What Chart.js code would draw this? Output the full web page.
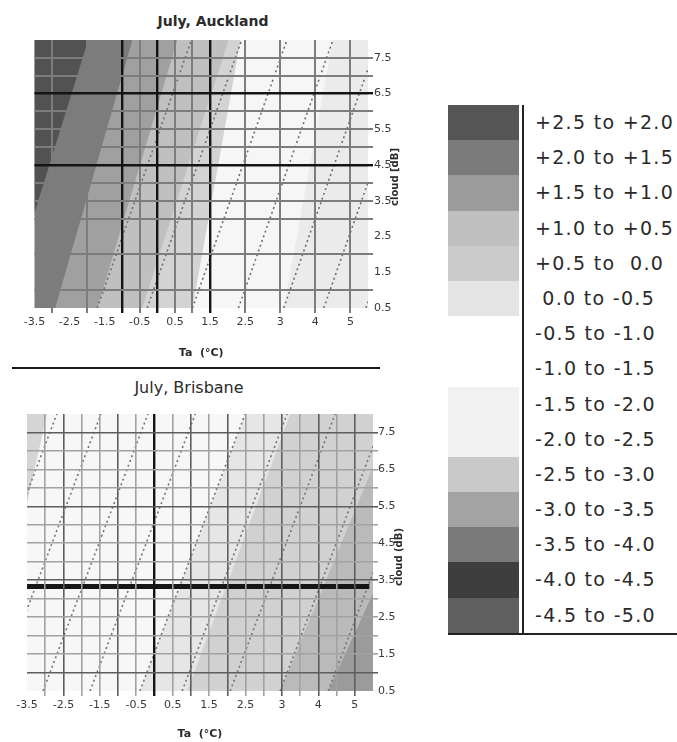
<!DOCTYPE html>
<html lang="en">
<head>
<meta charset="UTF-8">
<meta name="viewport" content="width=device-width, initial-scale=1.0">
<title>July, Auckland / July, Brisbane</title>
<style>
    body { margin: 0; background: #fff; }
    .page {
        position: relative;
        width: 677px;
        height: 742px;
        overflow: hidden;
        background: #fff;
        font-family: 'DejaVu Sans', sans-serif;
        color: #2b2b2b;
    }
    canvas { position: absolute; }
    #aucklandChart { left: 0; top: 0; }
    #brisbaneChart { left: 0; top: 372px; }
    .panel-title { position: absolute; width: 220px; text-align: center; white-space: nowrap; }
    #aucklandTitle { left: 103px; top: 12px; font-size: 14px; font-weight: bold; line-height: 19px; }
    #brisbaneTitle { left: 79px; top: 378px; font-size: 16px; line-height: 20px; }
    .cloud-title {
        position: absolute;
        width: 100px; height: 12px; line-height: 12px;
        font-size: 10px; font-weight: bold;
        text-align: center; white-space: nowrap;
        transform: rotate(-90deg);
    }
    #aucklandCloud { left: 345px; top: 171px; }
    #brisbaneCloud { left: 349px; top: 551px; }
    .divider { position: absolute; left: 12px; top: 367px; width: 368px; height: 2px; background: #1a1a1a; }
    #legend {
        position: absolute;
        left: 448px; top: 105px; width: 229px;
        border-bottom: 2px solid #222;
    }
    .legend-row { display: flex; height: 35.2px; }
    .swatch { width: 71px; height: 100%; }
    .range {
        margin-left: 3px;
        border-left: 2px solid #222;
        padding-left: 11px;
        line-height: 35.2px;
        font-size: 19px;
        letter-spacing: 1.3px;
        white-space: pre;
        color: #2a2a2a;
    }
</style>
<script src="https://cdn.jsdelivr.net/npm/chart.js"></script>
</head>
<body>
<div class="page">
    <div class="panel-title" id="aucklandTitle">July, Auckland</div>
    <canvas id="aucklandChart" width="396" height="362"></canvas>
    <div class="cloud-title" id="aucklandCloud">cloud [dB]</div>

    <div class="divider"></div>

    <div class="panel-title" id="brisbaneTitle">July, Brisbane</div>
    <canvas id="brisbaneChart" width="404" height="370"></canvas>
    <div class="cloud-title" id="brisbaneCloud">cloud (dB)</div>

    <div id="legend"></div>
</div>

<script>
    // ---- axis labels ----
    const taTickLabels = ['-3.5', '-2.5', '-1.5', '-0.5', '0.5', '1.5', '2.5', '3', '4', '5'];
    const cloudTickLabels = [0.5, 1.5, 2.5, 3.5, 4.5, 5.5, 6.5, 7.5];

    // ---- legend ranges ----
    const legendRanges = [
        '+2.5 to +2.0', '+2.0 to +1.5', '+1.5 to +1.0', '+1.0 to +0.5', '+0.5 to  0.0',
        ' 0.0 to -0.5', '-0.5 to -1.0', '-1.0 to -1.5', '-1.5 to -2.0', '-2.0 to -2.5',
        '-2.5 to -3.0', '-3.0 to -3.5', '-3.5 to -4.0', '-4.0 to -4.5', '-4.5 to -5.0'
    ];

    // ---- Auckland ----
    // contour edges: Ta column where each edge meets cloud 0.5 (low) and cloud 8 (high)
    const aucklandEdgeLow  = [-0.84, 0.59, 1.79, 3.07, 4.5, 7.1];
    const aucklandEdgeHigh = [1.53, 2.79, 4.07, 5.53, 5.87, 8.5];
    const aucklandDotLow  = [1.79, 3.21, 4.5, 5.81, 7.1, 8.24, 9.44];
    const aucklandDotHigh = [4.47, 5.9, 7.19, 8.5, 9.79, 10.93, 12.13];
    const aucklandGridTa = [0.5, 1.5, 2.5, 3, 3.5, 4, 4.5, 5, 6, 7, 8, 9];
    const aucklandBoldTa = [2.5, 3.5, 5];
    const aucklandGridCloud = [1, 2, 3, 3.5, 4, 4.5, 5, 5.5, 6, 6.5, 7, 7.5];
    const aucklandBoldCloud = [4.5, 6.5];

    // ---- Brisbane ----
    const brisbaneCornerLow = [-1.15];
    const brisbaneCornerHigh = [0.55];
    const brisbaneEdgeLow  = [3.1, 4.4, 6.95, 8.27];
    const brisbaneEdgeHigh = [6.0, 7.23, 10.1, 11.76];
    const brisbaneDotLow  = [-2.06, -0.85, 0.44, 1.73, 3.1, 4.26, 5.58, 6.95, 8.27, 9.56];
    const brisbaneDotHigh = [0.82, 2.03, 3.32, 4.62, 5.99, 7.14, 8.46, 9.84, 11.15, 12.45];
    const brisbaneGridTa = [0.5, 1, 1.5, 2, 2.5, 3, 3.5, 4, 4.5, 5, 5.5, 6, 6.5, 7, 7.5, 8, 8.5, 9];
    const brisbaneDarkTa = [1, 2.5, 4.5, 5.5, 7, 8, 9];
    const brisbaneBoldTa = [3.5];
    const brisbaneGridCloud = [1, 1.5, 2, 2.5, 3, 3.5, 4, 4.5, 5, 5.5, 6, 6.5, 7, 7.5];
    const brisbaneDarkCloud = [1, 3.5, 5.5, 7.5];
    const brisbaneCurrentCloud = [3.33];

    // ---- shades (styles) ----
    const legendShades = ['#555555', '#7b7b7b', '#9b9b9b', '#c0c0c0', '#cbcbcb', '#e4e4e4', '#ffffff', '#ffffff',
        '#f1f1f1', '#f1f1f1', '#c9c9c9', '#a3a3a3', '#7a7a7a', '#3e3e3e', '#5f5f5f'];
    const aucklandShades = ['#525252', '#7c7c7c', '#a0a0a0', '#c0c0c0', '#d3d3d3', '#f6f6f6'];
    const brisbaneShades = ['#e6e6e6', '#d1d1d1', '#bababa', '#9b9b9b'];

    const Y_LOW = 0.5, Y_HIGH = 8;
    const CLEAR = 'rgba(0,0,0,0)';

    // plot area background
    const plotBackground = {
        id: 'plotBackground',
        beforeDatasetsDraw(chart, args, opts) {
            const { ctx, chartArea: a } = chart;
            ctx.save();
            ctx.fillStyle = opts.color;
            ctx.fillRect(a.left, a.top, a.width, a.height);
            ctx.restore();
        }
    };

    function edgePoints(low, high) {
        return [{ x: -10, y: Y_LOW }, { x: low, y: Y_LOW }, { x: high, y: Y_HIGH }, { x: 30, y: Y_HIGH }];
    }

    // side 'left' paints the area left of the edge, 'right' the area right of it
    function bandSet(low, high, color, side, order) {
        return {
            data: edgePoints(low, high),
            fill: side === 'left' ? 'end' : 'start',
            backgroundColor: color,
            borderColor: CLEAR,
            borderWidth: 0,
            pointRadius: 0,
            order: order
        };
    }

    function dotSet(low, high, color) {
        return {
            data: [{ x: low, y: Y_LOW }, { x: high, y: Y_HIGH }],
            borderColor: color,
            borderWidth: 1.6,
            borderDash: [2, 3],
            fill: false,
            pointRadius: 0,
            order: 3
        };
    }

    function union(a, b) {
        return [...new Set([...a, ...b])].sort((p, q) => p - q);
    }

    function gridStyle(gridVals, darkVals, boldVals, colors) {
        return {
            z: 1,
            tickLength: 5,
            color: c => {
                const v = c.tick ? c.tick.value : null;
                if (boldVals.includes(v)) return colors.bold;
                if (darkVals.includes(v)) return colors.dark;
                if (gridVals.includes(v)) return colors.light;
                return CLEAR;
            },
            lineWidth: c => {
                const v = c.tick ? c.tick.value : null;
                return boldVals.includes(v) ? colors.boldWidth : colors.width;
            }
        };
    }

    const tickFont = { family: 'DejaVu Sans', size: 11 };

    function taAxis(gridVals, darkVals, boldVals, colors, height, titlePad) {
        const labelPos = taTickLabels.map((_, i) => i);
        return {
            type: 'linear',
            min: 0,
            max: 9.5,
            afterBuildTicks: s => { s.ticks = union(labelPos, gridVals).map(v => ({ value: v })); },
            afterFit: s => { s.height = height; },
            ticks: {
                autoSkip: false, maxRotation: 0, minRotation: 0, padding: 3,
                color: '#3a3a3a', font: tickFont,
                callback: v => (Number.isInteger(v) && taTickLabels[v] !== undefined) ? taTickLabels[v] : ''
            },
            grid: gridStyle(gridVals, darkVals, boldVals, colors),
            border: { display: false },
            title: {
                display: true,
                text: 'Ta  (°C)',
                color: '#2b2b2b',
                font: { family: 'DejaVu Sans', size: 11, weight: 'bold' },
                padding: { top: 0, bottom: titlePad }
            }
        };
    }

    function cloudAxis(gridVals, darkVals, boldVals, colors, width, pad) {
        return {
            type: 'linear',
            position: 'right',
            min: Y_LOW,
            max: Y_HIGH,
            afterBuildTicks: s => { s.ticks = union(cloudTickLabels, gridVals).map(v => ({ value: v })); },
            afterFit: s => { s.width = width; },
            ticks: {
                autoSkip: false, padding: pad,
                color: '#3a3a3a', font: tickFont,
                callback: v => cloudTickLabels.includes(v) ? v.toFixed(1) : ''
            },
            grid: gridStyle(gridVals, darkVals, boldVals, colors),
            border: { display: false }
        };
    }

    // ---- Auckland chart ----
    const aucklandSets = [];
    aucklandEdgeLow.forEach((low, i) => {
        aucklandSets.push(bandSet(low, aucklandEdgeHigh[i], aucklandShades[i], 'left', 10 + i));
    });
    aucklandDotLow.forEach((low, i) => aucklandSets.push(dotSet(low, aucklandDotHigh[i], '#6e6e6e')));

    const aucklandGridColors = { light: '#7d7d7d', dark: '#7d7d7d', bold: '#141414', width: 2, boldWidth: 2.4 };

    new Chart(document.getElementById('aucklandChart'), {
        type: 'line',
        data: { datasets: aucklandSets },
        plugins: [plotBackground],
        options: {
            responsive: false,
            animation: false,
            events: [],
            devicePixelRatio: 1,
            layout: { autoPadding: false, padding: { left: 34.5, top: 40, right: 0, bottom: 0 } },
            plugins: {
                legend: { display: false },
                tooltip: { enabled: false },
                plotBackground: { color: '#ebebeb' }
            },
            scales: {
                x: taAxis(aucklandGridTa, [], aucklandBoldTa, aucklandGridColors, 54, 2.4),
                y: cloudAxis(aucklandGridCloud, [], aucklandBoldCloud, aucklandGridColors, 28, 1)
            }
        }
    });

    // ---- Brisbane chart ----
    const brisbaneSets = [];
    brisbaneEdgeLow.forEach((low, i) => {
        brisbaneSets.push(bandSet(low, brisbaneEdgeHigh[i], brisbaneShades[i], 'right', 20 - i));
    });
    brisbaneCornerLow.forEach((low, i) => {
        brisbaneSets.push(bandSet(low, brisbaneCornerHigh[i], '#d5d5d5', 'left', 9));
    });
    brisbaneDotLow.forEach((low, i) => brisbaneSets.push(dotSet(low, brisbaneDotHigh[i], '#747474')));
    brisbaneCurrentCloud.forEach(c => {
        brisbaneSets.push({
            data: [{ x: -0.1, y: c }, { x: 9.4, y: c }],
            borderColor: '#161616',
            borderWidth: 5,
            pointRadius: 0,
            fill: false,
            order: 1
        });
    });

    const brisbaneGridColors = { light: '#a2a2a2', dark: '#5e5e5e', bold: '#141414', width: 1.6, boldWidth: 2.4 };

    new Chart(document.getElementById('brisbaneChart'), {
        type: 'line',
        data: { datasets: brisbaneSets },
        plugins: [plotBackground],
        options: {
            responsive: false,
            animation: false,
            events: [],
            devicePixelRatio: 1,
            layout: { autoPadding: false, padding: { left: 27, top: 42, right: 0, bottom: 0 } },
            plugins: {
                legend: { display: false },
                tooltip: { enabled: false },
                plotBackground: { color: '#f7f7f7' }
            },
            scales: {
                x: taAxis(brisbaneGridTa, brisbaneDarkTa, brisbaneBoldTa, brisbaneGridColors, 51, 1.4),
                y: cloudAxis(brisbaneGridCloud, brisbaneDarkCloud, [], brisbaneGridColors, 31, 0)
            }
        }
    });

    // ---- legend ----
    const legendEl = document.getElementById('legend');
    legendRanges.forEach((text, i) => {
        const row = document.createElement('div');
        row.className = 'legend-row';
        const sw = document.createElement('span');
        sw.className = 'swatch';
        sw.style.background = legendShades[i];
        const label = document.createElement('span');
        label.className = 'range';
        label.textContent = text;
        row.append(sw, label);
        legendEl.append(row);
    });
</script>
</body>
</html>
